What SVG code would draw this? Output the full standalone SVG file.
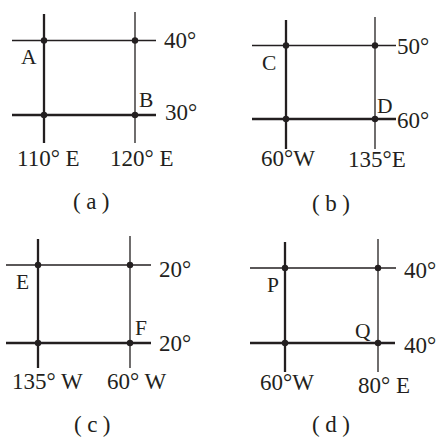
<svg xmlns="http://www.w3.org/2000/svg" width="437" height="439" viewBox="0 0 437 439">
<style>
text{font-family:"Liberation Serif","Times New Roman",serif;font-size:23px;fill:#231f20}
.pt{font-size:21.5px}
.cap{letter-spacing:5.5px}
.thick{stroke:#231f20;stroke-width:2.3;fill:none}
.thin{stroke:#231f20;stroke-width:1.3;fill:none}
circle{fill:#231f20}
</style>
<rect width="437" height="439" fill="#fff"/>
<g id="connectors">
<line class="thick" x1="44" y1="14" x2="44" y2="143"/>
<line class="thin" x1="135" y1="12" x2="135" y2="143"/>
<line class="thin" x1="12" y1="40.5" x2="156" y2="40.5"/>
<line class="thick" x1="12" y1="115" x2="156" y2="115"/>
<line class="thick" x1="286" y1="20" x2="286" y2="149"/>
<line class="thin" x1="375" y1="17" x2="375" y2="149"/>
<line class="thin" x1="252" y1="45.5" x2="396" y2="45.5"/>
<line class="thick" x1="252" y1="119" x2="396" y2="119"/>
<line class="thick" x1="38" y1="239" x2="38" y2="368"/>
<line class="thin" x1="130" y1="236" x2="130" y2="368"/>
<line class="thin" x1="6" y1="265" x2="151" y2="265"/>
<line class="thick" x1="6" y1="343" x2="151" y2="343"/>
<line class="thick" x1="285" y1="242" x2="285" y2="372"/>
<line class="thin" x1="378" y1="239" x2="378" y2="372"/>
<line class="thin" x1="250" y1="268" x2="396" y2="268"/>
<line class="thick" x1="250" y1="343" x2="395" y2="343"/>
</g>
<g id="panel-a">
<g id="A"><circle cx="44" cy="40.5" r="3.2"/><text class="pt" x="21" y="63.5">A</text></g>
<g id="a-tr"><circle cx="135" cy="40.5" r="3.2"/></g>
<g id="a-bl"><circle cx="44" cy="115" r="3.2"/></g>
<g id="B"><circle cx="135" cy="115" r="3.2"/><text class="pt" x="139" y="107">B</text></g>
<text x="164" y="48">40°</text>
<text x="165" y="120">30°</text>
<text x="17" y="166">110° E</text>
<text x="110" y="166">120° E</text>
<text class="cap" x="73" y="209">(a)</text>
</g>
<g id="panel-b">
<g id="C"><circle cx="286" cy="45.5" r="3.2"/><text class="pt" x="262" y="70">C</text></g>
<g id="b-tr"><circle cx="375" cy="45.5" r="3.2"/></g>
<g id="b-bl"><circle cx="286" cy="119" r="3.2"/></g>
<g id="D"><circle cx="375" cy="119" r="3.2"/><text class="pt" x="377" y="113">D</text></g>
<text x="397" y="54">50°</text>
<text x="397" y="128">60°</text>
<text x="261" y="166">60°W</text>
<text x="348" y="167">135°E</text>
<text class="cap" x="312" y="211">(b)</text>
</g>
<g id="panel-c">
<g id="E"><circle cx="38" cy="265" r="3.2"/><text class="pt" x="16" y="289">E</text></g>
<g id="c-tr"><circle cx="130" cy="265" r="3.2"/></g>
<g id="c-bl"><circle cx="38" cy="343" r="3.2"/></g>
<g id="F"><circle cx="130" cy="343" r="3.2"/><text class="pt" x="135" y="335">F</text></g>
<text x="159" y="277">20°</text>
<text x="159" y="351">20°</text>
<text x="12" y="389">135° W</text>
<text x="107" y="389">60° W</text>
<text class="cap" x="74" y="432">(c)</text>
</g>
<g id="panel-d">
<g id="P"><circle cx="285" cy="268" r="3.2"/><text class="pt" x="267" y="292">P</text></g>
<g id="d-tr"><circle cx="378" cy="268" r="3.2"/></g>
<g id="d-bl"><circle cx="285" cy="343" r="3.2"/></g>
<g id="Q"><circle cx="378" cy="343" r="3.2"/><text class="pt" x="355" y="338">Q</text></g>
<text x="404" y="278">40°</text>
<text x="404" y="353">40°</text>
<text x="260" y="390">60°W</text>
<text x="358" y="393">80° E</text>
<text class="cap" x="312" y="432">(d)</text>
</g>
</svg>
